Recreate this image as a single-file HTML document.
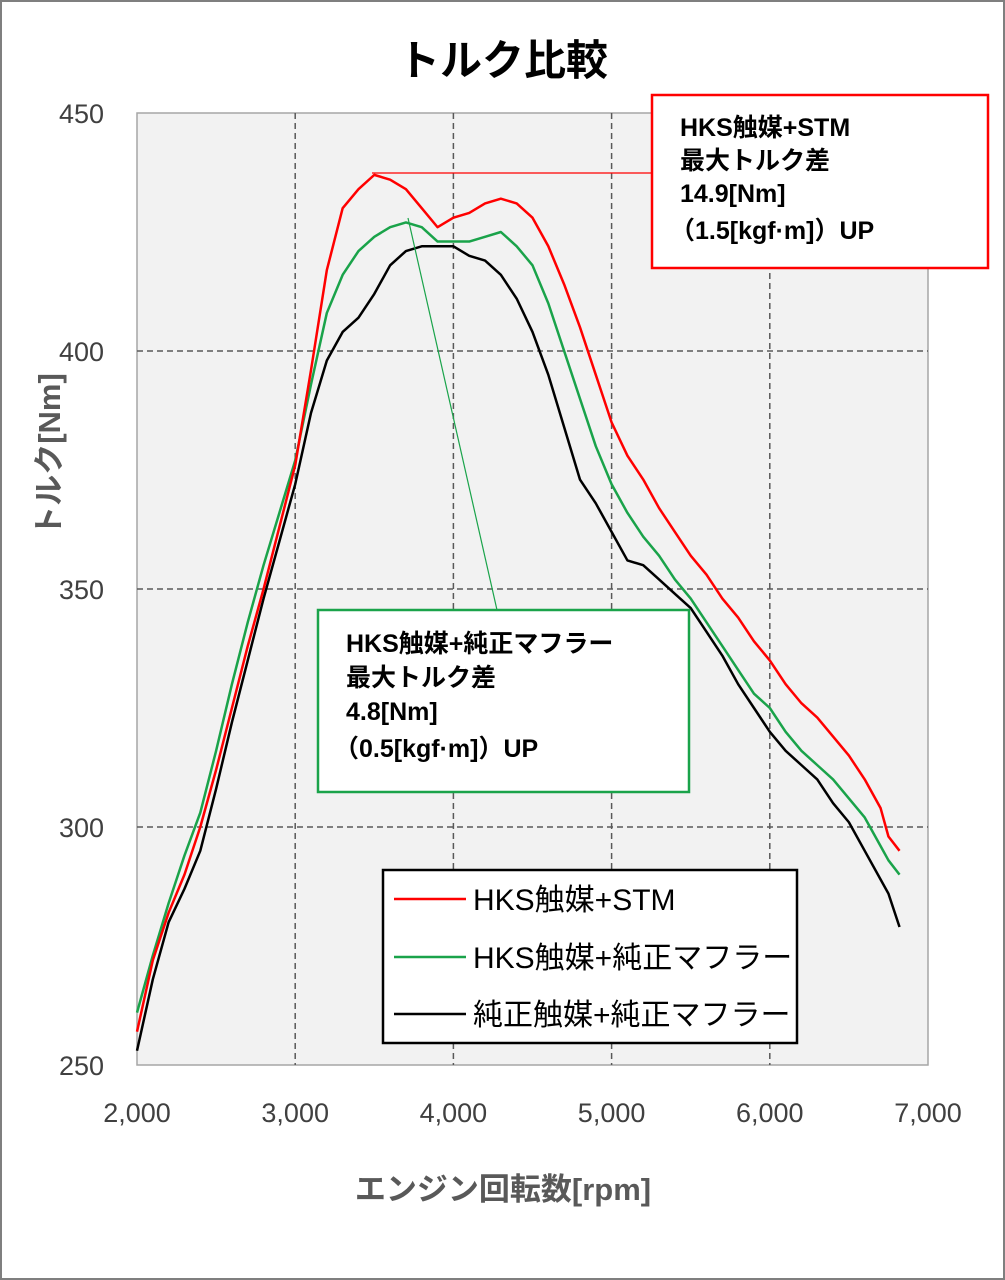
<!DOCTYPE html>
<html><head><meta charset="utf-8">
<style>
body{margin:0;background:#fff;}
svg{display:block;font-family:"Liberation Sans","Noto Sans CJK JP",sans-serif;}
</style></head>
<body>
<svg id="chart" width="1005" height="1280" viewBox="0 0 1005 1280">
<rect x="1" y="1" width="1003" height="1278" fill="#fff" stroke="#7f7f7f" stroke-width="2"/>
<text x="503" y="75" text-anchor="middle" font-size="42" font-weight="bold" fill="#000">トルク比較</text>
<rect x="137" y="113" width="791" height="952" fill="#f2f2f2" stroke="#a6a6a6" stroke-width="1.5"/>
<g id="grid"></g>
<g id="ticks"></g>
<g id="series"></g>
<text transform="translate(60,455) rotate(-90)" text-anchor="middle" font-size="31" font-weight="bold" fill="#595959">トルク[Nm]</text>
<text x="503" y="1200" text-anchor="middle" font-size="31" font-weight="bold" fill="#595959">エンジン回転数[rpm]</text>

<line x1="372" y1="173" x2="652" y2="173" stroke="#ff0000" stroke-width="1.2"/>
<rect x="652" y="95" width="336" height="173" fill="#fff" stroke="#ff0000" stroke-width="2.5"/>
<g font-size="25" font-weight="bold" fill="#000">
<text x="680" y="136">HKS触媒+STM</text>
<text x="680" y="169">最大トルク差</text>
<text x="680" y="202">14.9[Nm]</text>
<text x="670" y="239">（1.5[kgf·m]）UP</text>
</g>
<line x1="408" y1="218" x2="497" y2="610" stroke="#1aa34a" stroke-width="1.2"/>
<rect x="318" y="610" width="371" height="182" fill="#fff" stroke="#1aa34a" stroke-width="2.5"/>
<g font-size="25" font-weight="bold" fill="#000">
<text x="346" y="652">HKS触媒+純正マフラー</text>
<text x="346" y="686">最大トルク差</text>
<text x="346" y="720">4.8[Nm]</text>
<text x="334" y="757">（0.5[kgf·m]）UP</text>
</g>
<rect x="383" y="870" width="414" height="173" fill="#fff" stroke="#000" stroke-width="2.5"/>
<g>
<line x1="394" y1="899" x2="466" y2="899" stroke="#ff0000" stroke-width="2.5"/>
<text x="473" y="910" font-size="30" fill="#000">HKS触媒+STM</text></g>
<g>
<line x1="394" y1="957" x2="466" y2="957" stroke="#1aa34a" stroke-width="2.5"/>
<text x="473" y="968" font-size="30" fill="#000">HKS触媒+純正マフラー</text></g>
<g>
<line x1="394" y1="1014" x2="466" y2="1014" stroke="#000" stroke-width="2.5"/>
<text x="473" y="1025" font-size="30" fill="#000">純正触媒+純正マフラー</text></g>
</svg>
<script>
const rpm=[2000,2100,2200,2300,2400,2500,2600,2700,2800,2900,3000,3100,3200,3300,3400,3500,3600,3700,3800,3900,4000,4100,4200,4300,4400,4500,4600,4700,4800,4900,5000,5100,5200,5300,5400,5500,5600,5700,5800,5900,6000,6100,6200,6300,6400,6500,6600,6700,6750,6820];
const stm=[257,272,282,290,300,312,325,338,350,363,376,396,417,430,434,437,436,434,430,426,428,429,431,432,431,428,422,414,405,395,385,378,373,367,362,357,353,348,344,339,335,330,326,323,319,315,310,304,298,295];
const hksStock=[261,273,284,294,303,316,330,343,355,366,377,393,408,416,421,424,426,427,426,423,423,423,424,425,422,418,410,400,390,380,372,366,361,357,352,348,343,338,333,328,325,320,316,313,310,306,302,296,293,290];
const stock=[253,268,280,287,295,308,322,335,348,360,372,387,398,404,407,412,418,421,422,422,422,420,419,416,411,404,395,384,373,368,362,356,355,352,349,346,341,336,330,325,320,316,313,310,305,301,295,289,286,279];
const xTicks=[2000,3000,4000,5000,6000,7000];
const xLabels=["2,000","3,000","4,000","5,000","6,000","7,000"];
const yTicks=[250,300,350,400,450];
const NS="http://www.w3.org/2000/svg";
const X=v=>137+(v-2000)/5000*791;
const Y=v=>1065-(v-250)/200*952;
const grid=document.getElementById('grid'),ticks=document.getElementById('ticks'),ser=document.getElementById('series');
function mk(t,a,p){const e=document.createElementNS(NS,t);for(const k in a)e.setAttribute(k,a[k]);p.appendChild(e);return e;}
xTicks.forEach((v,i)=>{
 if(i>0&&i<xTicks.length-1){const l=mk('line',{x1:X(v),x2:X(v),y1:113,y2:1065,stroke:'#595959','stroke-width':1.5,'stroke-dasharray':'6,4'},grid);
 
 }
 const t=mk('text',{x:X(v),y:1122,'text-anchor':'middle','font-size':27,fill:'#404040'},ticks);t.textContent=xLabels[i];
 
 
});
yTicks.forEach(v=>{
 if(v>250&&v<450){const l=mk('line',{x1:137,x2:928,y1:Y(v),y2:Y(v),stroke:'#595959','stroke-width':1.5,'stroke-dasharray':'6,4'},grid);
 
 }
 const t=mk('text',{x:104,y:Y(v)+10,'text-anchor':'end','font-size':27,fill:'#404040'},ticks);t.textContent=v;
 
 
});
[[stock,'#000','stock-line'],[hksStock,'#1aa34a','hks-stock-line'],[stm,'#ff0000','stm-line']].forEach(([d,c,n])=>{
 const p=mk('polyline',{points:d.map((v,i)=>X(rpm[i])+','+Y(v)).join(' '),fill:'none',stroke:c,'stroke-width':2.5,'stroke-linejoin':'round'},ser);
 
 
});
</script>
</body></html>
